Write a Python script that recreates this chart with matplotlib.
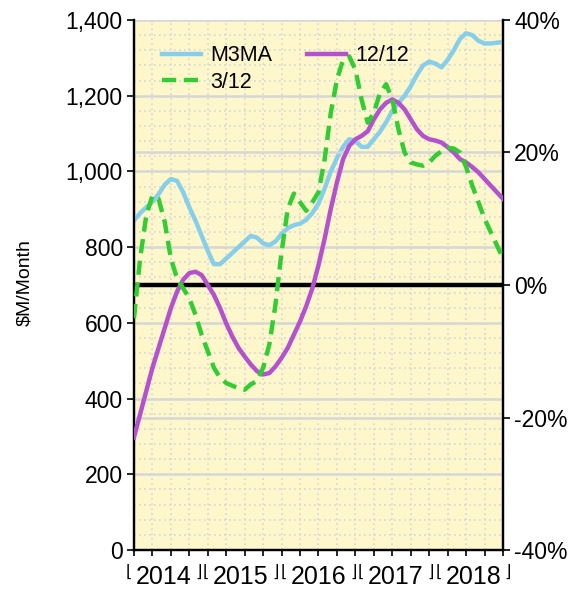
import numpy as np
import matplotlib.pyplot as plt
from matplotlib.ticker import FuncFormatter, MultipleLocator
import matplotlib.transforms as mtransforms

plt.rcParams['font.family'] = ['Liberation Sans', 'DejaVu Sans']

# monthly points, Jan 2014 .. Jan 2019
months = np.arange(61)
years = [2014, 2015, 2016, 2017, 2018]

# 3-month moving average, $M/month (left axis)
m3ma = [870, 890, 905, 920, 940, 965, 980, 975, 945, 905,
        870, 830, 790, 755, 755, 770, 785, 800, 815, 830,
        825, 810, 805, 815, 835, 850, 858, 862, 872, 890,
        915, 955, 1000, 1035, 1065, 1085, 1080, 1065, 1065, 1085,
        1105, 1130, 1160, 1180, 1200, 1225, 1255, 1280, 1290, 1285,
        1275, 1295, 1320, 1350, 1365, 1360, 1345, 1338, 1338, 1340,
        1342]

# year-over-year growth, % (right axis)
g_12_12 = [-23, -19.5, -16, -12.5, -9.5, -6.5, -3.5, -1, 0.8, 1.8,
           2.0, 1.5, 0, -1.5, -3.5, -5.8, -7.8, -9.5, -10.8, -12,
           -13, -13.5, -13.3, -12.3, -11, -9.5, -7.5, -5.5, -3.2, -0.5,
           3, 7, 11.5, 15.5, 19, 21, 22, 22.5, 23.2, 25,
           26.5, 27.5, 28, 27.5, 26.5, 25, 23.5, 22.5, 22, 21.8,
           21.5, 20.8, 20, 19, 18.5, 17.8, 17, 16, 15, 14,
           13]

g_3_12 = [-5, 4, 10.5, 13.5, 13, 9.5, 4, 1, -0.5, -2,
          -4.5, -7.5, -10, -12.5, -14, -14.8, -15.2, -15.6, -15.8, -15,
          -14.5, -12.5, -9, -3, 5, 11.5, 13.8, 12.5, 11.2, 12.5,
          14, 19, 26, 31, 34, 34.5, 32.5, 28, 24.5, 26,
          29, 30.3, 28, 23.5, 20, 18.5, 18.2, 18, 18.5, 19.5,
          20.2, 20.7, 20.6, 20, 17.8, 15, 12.5, 10, 8, 6,
          4]

x = 2014 + months / 12.0

fig = plt.figure(figsize=(5.76, 5.93), dpi=100)
ax = fig.add_axes([0.2326, 0.0725, 0.6407, 0.8938])
ax.set_facecolor('#FEF7CC')
ax2 = ax.twinx()

# grid
grid_col = '#d6d6d6'
for v in np.arange(0, 1401, 40):
    if v % 200:
        ax.axhline(v, color=grid_col, lw=1.2, ls=(0, (1, 2)), zorder=0)
for v in np.arange(0, 1401, 200):
    ax.axhline(v, color=grid_col, lw=1.8, zorder=0)
for q in np.arange(2014.25, 2019, 0.25):
    ax.axvline(q, color=grid_col, lw=1.2, ls=(0, (1, 2)), zorder=0)
for p in (-20, 20):
    ax2.axhline(p, color=grid_col, lw=1.8, zorder=0)

l_m3ma, = ax.plot(x, m3ma, color='#87CEEB', lw=3.2, label='M3MA', zorder=3)
ax2.axhline(0, color='black', lw=3.2, zorder=2)
l_1212, = ax2.plot(x, g_12_12, color='#B452CD', lw=3.2, label='12/12', zorder=3)
l_312, = ax2.plot(x, g_3_12, color='#32CD32', lw=3.2, ls=(0, (3.2, 1.7)),
                  label='3/12', zorder=4)

ax.set_xlim(2014, 2019)
ax.set_ylim(0, 1400)
ax2.set_ylim(-40, 40)

ax.yaxis.set_major_locator(MultipleLocator(200))
ax.yaxis.set_major_formatter(FuncFormatter(lambda v, p: f'{v:,.0f}'))
ax2.yaxis.set_major_locator(MultipleLocator(20))
ax2.yaxis.set_major_formatter(FuncFormatter(lambda v, p: f'{v:.0f}%'))

ax.set_xticks(np.arange(2014, 2019.01, 0.25))
ax.set_xticklabels([])
ax.tick_params(axis='x', direction='out', length=4, width=1.2)
ax.tick_params(axis='y', direction='out', length=5, width=1.2, labelsize=16.5, pad=3)
ax2.tick_params(axis='y', direction='out', length=5, width=1.2, labelsize=16.5, pad=3)

for a in (ax, ax2):
    a.spines['top'].set_visible(False)
    for s in ('left', 'right', 'bottom'):
        a.spines[s].set_linewidth(1.6)

ax.set_ylabel(r'\$M/Month', fontsize=14)
ax.yaxis.set_label_coords(-0.274, 0.505)

# year labels with bracket marks along the bottom
trans = mtransforms.blended_transform_factory(ax.transData, ax.transAxes)
for yr in years:
    c = 2016.5 + (yr + 0.5 - 2016.5) * 1.05
    ax.text(c, -0.028, str(yr), transform=trans, ha='center', va='top',
            fontsize=18)
    ax.text(c - 0.47, -0.026, '\u230a', transform=trans, ha='center', va='top',
            fontsize=12, family='DejaVu Sans')
    ax.text(c + 0.47, -0.026, '\u230b', transform=trans, ha='center', va='top',
            fontsize=12, family='DejaVu Sans')

ax2.legend([l_m3ma, l_312, l_1212], ['M3MA', '3/12', '12/12'], ncol=2,
           loc='upper left', bbox_to_anchor=(0.03, 0.985), frameon=False,
           fontsize=15.5, handlelength=1.8, columnspacing=1.6,
           labelspacing=0.27, handletextpad=0.45, borderpad=0.3)

fig.savefig('out.png', dpi=100)
